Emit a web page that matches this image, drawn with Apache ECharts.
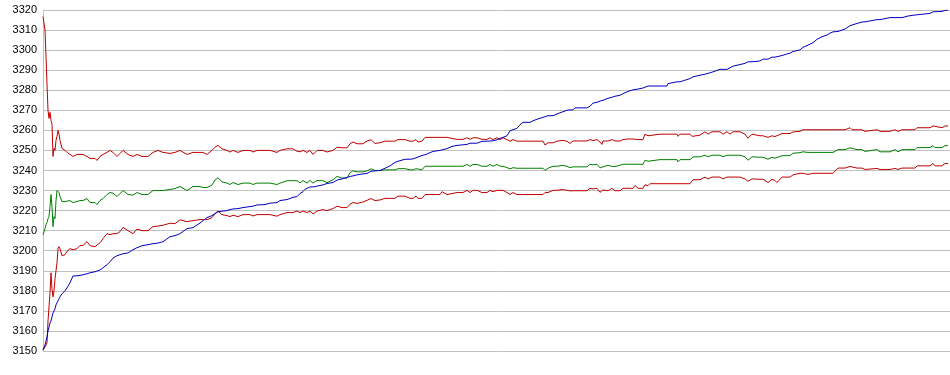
<!DOCTYPE html>
<html>
<head>
<meta charset="utf-8">
<script src="https://cdn.jsdelivr.net/npm/echarts@6/dist/echarts.min.js"></script>
<style>
html,body{margin:0;padding:0;background:#fff;}
#c{width:950px;height:375px;}
</style>
</head>
<body>
<div id="c"></div>
<script>
const steps = [
0,2,3,4,5,6,7,8,9,10,
11,12,13,14,15,16,17,19,22,24,
27,30,34,37,40,44,47,52,54,57,
60,64,67,70,74,77,80,85,90,94,
99,105,110,115,120,127,132,137,144,150,
157,160,164,169,172,175,179,184,187,190,
195,200,207,210,214,222,227,234,237,244,
250,254,257,260,262,264,267,270,274,280,
284,290,294,299,304,307,310,314,320,324,
328,332,337,342,347,352,355,362,367,370,
373,375,379,382,390,397,399,404,409,414,
420,424,427,430,434,439,444,447,450,454,
457,460,464,467,470,474,477,480,487,490,
495,500,502,505,510,514,519,520,524,527,
530,532,544,547,550,554,557,559,560,565,
569,572,577,580,585,590,592,595,600,602,
605,607,617,624,625,634,635,637,642,647,
649,650,657,662,665,669,677,680,684,687,
690,697,702,705,709,717,720,725,729,732,
734,739,744,747,750,757,760,765,767,770,
774,779,784,787,789,790,795,802,807,809,
814,819,822,824,834,837,847,852,855,859,
865,872,874,887,890,892,899,902,905
];
const upperRed = [
3316.7,3310,3297,3283,3270,3266,3269,3265,3263,3247,
3251,3250,3255,3257,3260,3258,3255,3251,3250,3249,
3248,3247,3248,3248,3248,3247,3246,3246,3245,3247,
3248,3249,3250,3249,3247,3248.5,3250,3248,3247,3248,
3247,3247,3249,3250,3249,3248.5,3249,3250,3248,3249,
3249,3249,3248,3250,3251.6,3252.5,3250.8,3250,3249.2,3250,
3249,3250,3250,3249.2,3250,3250,3250,3249,3250,3250.8,
3250.8,3249.6,3249.3,3250,3249.5,3249,3250,3248,3250,3250,
3249.2,3250,3251.6,3251.3,3251.3,3253.3,3254.2,3253.3,3253.3,3254.7,
3255.3,3253.5,3253.8,3254.6,3254.6,3254.6,3255.4,3255.4,3254.6,3254.6,
3255.4,3254.2,3254.6,3256.5,3256.5,3256.5,3257.3,3256.5,3256,3255.5,
3255.5,3256.3,3255.5,3256.3,3256.3,3255.5,3255.5,3256.3,3255.4,3256.3,
3255.4,3256.3,3255.4,3254.6,3255.4,3254.6,3254.6,3254.6,3254.6,3254.6,
3254.6,3254.6,3252.7,3253.8,3253.8,3254.6,3255,3255.4,3254.6,3253.5,
3254.7,3254.7,3254.7,3255.4,3254.9,3255.4,3254.2,3253,3254.7,3254.7,
3255.4,3254.7,3254.7,3255.4,3255.7,3255.7,3256.1,3255.4,3255.4,3258.1,
3257.3,3258.1,3258.1,3258.1,3258.1,3258.1,3257,3258.1,3258.1,3258.1,
3257,3257.6,3257.6,3259.3,3258.1,3259.3,3259.3,3258.1,3259.3,3258.1,
3259.3,3259.3,3258.1,3256.1,3258.1,3257.3,3257.3,3256.5,3257.3,3256.9,
3256.5,3258.4,3258.4,3258.4,3259.2,3259.5,3260.3,3260.3,3259.5,3260.3,
3260.3,3260.3,3260.3,3260.3,3259.5,3260.3,3260.3,3260.3,3261.3,3260.3,
3260.3,3260.3,3259.5,3260.3,3260.3,3259.5,3259.5,3260.3,3259.5,3260.3,
3260.3,3260.3,3261.3,3261.3,3262.2,3261.3,3261.3,3262.2,3262.2
];
const greenMid = [
3208,3211,3213,3214,3216,3217,3222,3228,3222,3212,
3217,3216,3225,3230,3230,3229,3227,3224.5,3224.5,3224.5,
3225,3224,3224.5,3225,3225,3226,3224,3224,3223,3225,
3226,3228,3229,3228.7,3227,3228.5,3230,3228,3227.7,3229,
3228,3228,3230,3230,3230,3230.5,3231,3232,3230,3232,
3232,3231.5,3231.5,3232.7,3235.2,3236.4,3234.3,3233.7,3233,3234,
3233,3233.7,3233.7,3233,3233.7,3233.7,3233.7,3233,3233.7,3234.9,
3234.9,3234.9,3233.8,3235,3234.3,3233.7,3235,3233.7,3235,3234.9,
3233.9,3235.4,3237,3236.2,3236.2,3238.9,3239.8,3239.3,3239.3,3239.8,
3240.8,3240,3240,3240.3,3240.3,3240.3,3240.9,3240.9,3240.3,3240.3,
3240.9,3240.3,3240.3,3242.1,3242.1,3242.1,3243,3242.1,3242.1,3242.1,
3242.1,3243,3242.1,3243,3243,3242.1,3242.1,3243,3242.1,3243,
3242.1,3242.1,3241.4,3240.8,3241.4,3241.1,3241.1,3241.1,3241.1,3241.1,
3241.1,3241.1,3240,3241.1,3242.1,3242.1,3242.5,3243,3242.1,3241.4,
3241.8,3241.8,3241.8,3243.1,3242.8,3243.1,3241.3,3241.3,3241.8,3242.6,
3242,3242,3242.6,3243.1,3243.1,3243.1,3244,3243.1,3243.1,3245.1,
3244.6,3245.4,3245.4,3245.4,3245.4,3245.4,3244.3,3245.4,3245.4,3245.4,
3245.4,3246.8,3246.8,3247.6,3246.8,3247.6,3247.6,3246.8,3247.6,3247.6,
3247.6,3247.6,3246.8,3245.1,3246.8,3246.6,3246.6,3245.6,3246.6,3246.1,
3245.6,3247.4,3247.4,3247.4,3248.6,3248.9,3249.3,3249,3248.6,3249,
3249,3249,3249,3249,3248.3,3249,3250.4,3250.4,3251.3,3250.4,
3250.4,3250.4,3249.5,3250.4,3250.4,3249.3,3249.3,3250.4,3249.3,3250.4,
3250.4,3250.4,3251.4,3251.4,3252.4,3251.4,3251.4,3252.4,3252.4
];
const lowerRed = [
3150.5,3152,3153,3154,3165,3172,3179,3189,3181,3177,
3180,3186,3190,3194,3201,3202,3201,3197.5,3198,3199.7,
3201,3200.5,3201,3202.6,3202.6,3204.5,3202.5,3202,3202,3204,
3206,3208.5,3208,3208.5,3208.5,3209.5,3211.6,3210,3208.5,3210.8,
3210,3210,3212,3212.3,3212.7,3213.7,3213.5,3215.4,3214.5,3215,
3215.5,3215.5,3215.5,3216.5,3218.5,3219.8,3218,3217.5,3217,3217.7,
3217,3218,3218,3217.3,3218,3218,3218,3217.2,3218,3219,
3219,3219.8,3219,3219.8,3219.4,3219,3219.8,3218.3,3219.8,3220.5,
3220,3221,3222.2,3221.5,3221.5,3223.2,3224,3223.6,3224.3,3225.1,
3226,3225,3225.3,3226.1,3226.1,3226.1,3227.2,3227.2,3226.1,3226.1,
3227.2,3226.1,3226.1,3228,3228,3228,3229.4,3228,3228.5,3229,
3229,3230.1,3229,3230.1,3230.1,3229,3229,3230.1,3229.4,3230.1,
3230.1,3230.1,3229,3228,3229,3228,3228,3228,3228,3228,
3228,3228,3229,3229,3230.1,3230.1,3230.5,3231,3230.1,3229.8,
3229.9,3229.9,3229.9,3231.1,3230.8,3231.1,3229.1,3229.1,3230.3,3229.9,
3231.1,3229.9,3229.9,3231.1,3231.1,3231.1,3232.5,3231.1,3231.1,3232.9,
3232.4,3233.4,3233.4,3233.4,3233.4,3233.4,3232.5,3233.4,3233.4,3233.4,
3233.4,3235.4,3235.4,3236.7,3235.8,3236.7,3236.7,3235.8,3236.7,3236.7,
3236.7,3236.7,3235.8,3234.6,3235.8,3235.6,3235.6,3234,3235.6,3235,
3234,3236.7,3236.7,3236.7,3237.8,3238.6,3238.6,3238,3237.8,3238.6,
3238.6,3238.6,3238.6,3238.6,3237.8,3238.6,3241.2,3241.2,3242,3241.2,
3241.2,3241.2,3240.5,3241,3241,3240.5,3240.5,3241,3240.5,3241.2,
3241.2,3241.2,3242.3,3242.3,3243.5,3242.3,3242.3,3243.5,3243.5
];
const blueTrend = [
3150.5,3153,3155,3157,3160,3162,3164,3165,3167,3169,
3170,3171,3173,3174,3175,3176,3177,3178.5,3180,3181.5,
3184,3187.4,3187.5,3187.7,3188,3188.5,3189,3189.5,3190,3190.4,
3191.5,3193,3194.5,3196.3,3197.5,3198,3198.5,3198.9,3200.5,3201.5,
3202.5,3203,3203.5,3203.8,3204.5,3207,3207.5,3208.5,3211,3211.5,
3213.8,3215,3216.5,3217.5,3218.5,3219.4,3219.7,3220,3220.5,3220.8,
3221,3221.5,3222,3222.2,3222.8,3223,3223.7,3224,3225,3225.5,
3226.6,3227,3228.5,3229.5,3230.6,3231,3231.8,3231.8,3232.2,3232.8,
3233.5,3234,3235.2,3235.8,3236.5,3237,3237.3,3237.8,3238.3,3238.5,
3239.6,3239.8,3240,3241.1,3242.3,3244,3244.6,3245.6,3245.6,3245.8,
3246.3,3246.8,3247.5,3247.8,3249.5,3250,3250.2,3250.9,3252,3252.5,
3252.8,3253,3253.6,3253.6,3253.6,3254.5,3254.6,3254.7,3254.8,3255.3,
3256,3256.5,3257.3,3259.8,3260.3,3261,3262.8,3264,3264,3264.8,
3265.7,3266.5,3267,3267.3,3267.3,3268.2,3269.1,3269.3,3270,3270.2,
3270.2,3271.2,3271.2,3272,3273.6,3274,3274.6,3274.8,3275,3276,
3276.5,3277,3277.5,3278.3,3279.4,3280.2,3280.3,3280.6,3281.1,3281.5,
3282.1,3282.1,3282.1,3282.1,3283.3,3284.2,3284.2,3284.2,3285,3285.8,
3286,3286.7,3287.5,3288,3288.4,3289,3290.4,3290.4,3290.4,3291.2,
3292,3292.8,3293.4,3294.2,3294.2,3294.6,3295.5,3295.5,3296.5,3296.5,
3296.5,3297.3,3298.1,3298.5,3299.3,3300.1,3301.4,3302.5,3303,3303.7,
3305.4,3306.7,3307.5,3308.5,3309.1,3309.1,3309.3,3310.5,3312.2,3312.5,
3313.3,3314,3314.1,3314.1,3315.2,3315.2,3316.2,3316.2,3316.2,3316.2,
3317,3317.5,3318.3,3318.3,3319.1,3319.1,3319.3,3319.8,3320
];
const yTicks = { min: 3150, max: 3320, interval: 10 };

function pairs(vals) { return steps.map((t, i) => [t, vals[i]]); }

const chart = echarts.init(document.getElementById('c'), null, { renderer: 'canvas' });
const mk = (name, vals, color) => ({
  name, type: 'line', data: pairs(vals), showSymbol: false, symbol: 'none',
  lineStyle: { color, width: 1 }, itemStyle: { color }, animation: false
});
chart.setOption({
  animation: false,
  backgroundColor: '#fff',
  grid: { left: 43, right: 0, top: 10, bottom: 24, containLabel: false },
  xAxis: {
    type: 'value', min: 0, max: 907,
    axisLine: { show: false }, axisTick: { show: false },
    axisLabel: { show: false }, splitLine: { show: false }
  },
  yAxis: {
    type: 'value', min: yTicks.min, max: yTicks.max, interval: yTicks.interval,
    axisLine: { show: true, lineStyle: { color: '#c0c0c0', width: 1 } },
    axisTick: { show: false },
    axisLabel: {
      color: '#000', fontSize: 11, fontFamily: 'Liberation Sans, Arial, sans-serif', margin: 6,
      formatter: v => String(v)
    },
    splitLine: { show: true, lineStyle: { color: '#c0c0c0', width: 1 } }
  },
  series: [
    mk('Upper', upperRed, '#c00000'),
    mk('Mean', greenMid, '#008000'),
    mk('Lower', lowerRed, '#c00000'),
    mk('Trend', blueTrend, '#0000c0')
  ]
});
</script>
</body>
</html>
